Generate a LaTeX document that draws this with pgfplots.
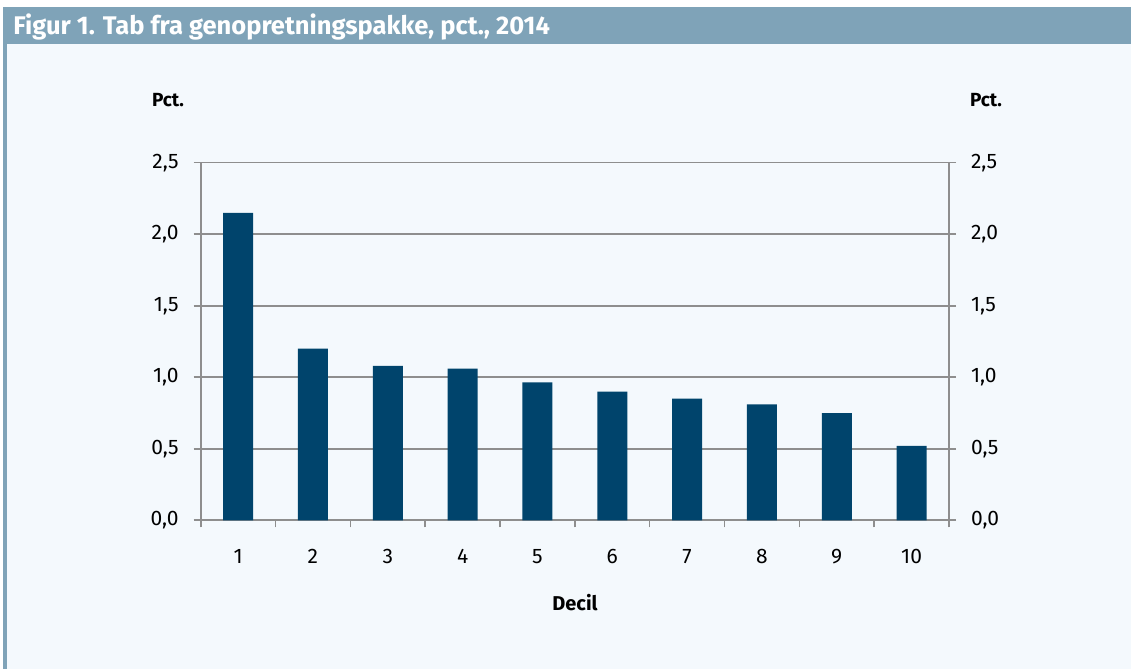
\documentclass[border=0pt]{standalone}
\usepackage{fontspec}
\setmainfont{Fira Sans}
\usepackage{pgfplots}
\pgfplotsset{compat=1.18}
\definecolor{hdr}{HTML}{7FA3B8}
\definecolor{panel}{HTML}{F4F9FD}
\definecolor{barc}{HTML}{00446C}
\definecolor{gridc}{HTML}{8E8E8E}
\pgfplotstableread{
x y
1 2.15
2 1.20
3 1.08
4 1.06
5 0.965
6 0.90
7 0.85
8 0.81
9 0.75
10 0.52
}\datatable
\begin{document}
\begin{tikzpicture}
\fill[white] (0,0) rectangle (565.5pt,334.5pt);
\fill[panel] (1.5pt,0) rectangle (565.5pt,312.5pt);
\fill[hdr] (1.5pt,312.5pt) rectangle (565.5pt,331pt);
\fill[hdr] (1.5pt,0) rectangle (3.5pt,312.5pt);
\node[anchor=west, text=white, font=\bfseries\fontsize{12.75}{14}\selectfont, inner sep=0pt] at (6.5pt,320.8pt) {Figur 1. Tab fra genopretningspakke, pct., 2014};
\node[font=\bfseries\fontsize{9.5}{11}\selectfont] at (84pt,284.5pt) {Pct.};
\node[font=\bfseries\fontsize{9.5}{11}\selectfont] at (493pt,284.5pt) {Pct.};
\node[font=\bfseries\fontsize{10}{12}\selectfont] at (287.5pt,33pt) {Decil};
\begin{axis}[
  at={(100.35pt,74.35pt)}, anchor=south west, scale only axis,
  width=374.15pt, height=178.8pt,
  xmin=0.5, xmax=10.5, ymin=0, ymax=2.5,
  ytick={0,0.5,1,1.5,2,2.5},
  xtick={1,2,3,4,5,6,7,8,9,10},
  xticklabels={1,2,3,4,5,6,7,8,9,10},
  major x tick style={draw=none},
  minor xtick={0.5,1.5,2.5,3.5,4.5,5.5,6.5,7.5,8.5,9.5,10.5},
  minor tick length=3.5pt,
  major tick length=3.5pt,
  tick align=outside,
  xtick pos=bottom, ytick pos=left,
  ymajorgrids, grid style={gridc, line width=0.8pt},
  axis line style={gridc, line width=1pt},
  tick style={gridc, line width=0.8pt},
  axis x line*=bottom, axis y line*=left,
  /pgf/number format/.cd, fixed, fixed zerofill, precision=1, use comma, assume math mode=true,
  /pgfplots/.cd,
  ticklabel style={font=\fontsize{10.5}{12}\selectfont},
  yticklabel style={xshift=-4pt},
  xticklabel style={yshift=-7.5pt},
  ybar, bar width=15pt,
]
\addplot[fill=barc, draw=none] table[x=x,y=y] {\datatable};
\end{axis}
\begin{axis}[
  at={(100.35pt,74.35pt)}, anchor=south west, scale only axis,
  width=374.15pt, height=178.8pt,
  xmin=0.5, xmax=10.5, ymin=0, ymax=2.5,
  ytick={0,0.5,1,1.5,2,2.5},
  xtick=\empty,
  axis x line=none,
  axis y line*=right,
  tick align=outside, major tick length=3.5pt,
  axis line style={gridc, line width=1pt},
  tick style={gridc, line width=0.8pt},
  /pgf/number format/.cd, fixed, fixed zerofill, precision=1, use comma, assume math mode=true,
  /pgfplots/.cd,
  ticklabel style={font=\fontsize{10.5}{12}\selectfont},
  yticklabel style={xshift=4pt},
]
\end{axis}
\end{tikzpicture}
\end{document}
